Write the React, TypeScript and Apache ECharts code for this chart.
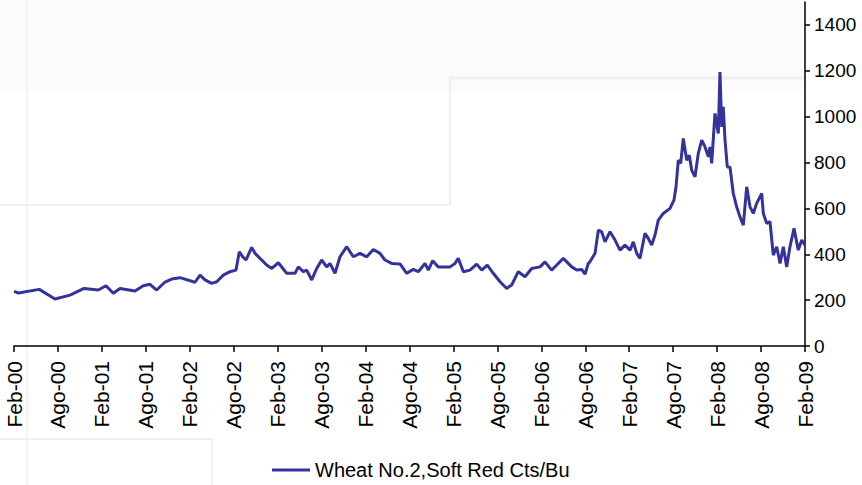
import React, { useEffect, useRef } from "react";
import * as echarts from "echarts";

// Tick labels (every 6 months, starting Feb-2000)
const xLabels = [
  "Feb-00", "Ago-00", "Feb-01", "Ago-01", "Feb-02", "Ago-02", "Feb-03", "Ago-03",
  "Feb-04", "Ago-04", "Feb-05", "Ago-05", "Feb-06", "Ago-06", "Feb-07", "Ago-07",
  "Feb-08", "Ago-08", "Feb-09",
];

// Months elapsed since Feb-2000
const monthIdx = [
  0, 0.59, 3.45, 5.6, 7.65, 9.56, 11.51, 12.56, 13.56, 14.47, 16.52, 17.65, 18.57, 19.48,
  20.62, 21.53, 22.66, 24.71, 25.4, 26.08, 26.99, 27.68, 28.58, 29.49, 30.31, 30.76,
  31.23, 31.68, 32.45, 32.91, 33.59, 34.5, 35.19, 36.09, 37.23, 38.37, 38.82, 39.5,
  39.96, 40.65, 41.33, 42.01, 42.69, 43.14, 43.83, 44.51, 45.43, 46.33, 47.24, 48.16,
  49.06, 49.97, 50.65, 51.57, 52.7, 53.62, 54.52, 55.2, 56.12, 56.57, 57.17, 57.93,
  59.53, 60.21, 60.66, 61.35, 62.26, 63.17, 63.86, 64.62, 65.44, 66.36, 67.27, 67.95,
  68.85, 69.77, 70.68, 71.82, 72.5, 73.41, 74.1, 75.0, 76.15, 76.83, 77.51, 77.96,
  78.41, 78.64, 79.33, 79.78, 80.24, 80.69, 81.38, 82.06, 82.74, 83.42, 84.11, 84.56,
  85.02, 85.47, 86.15, 86.6, 87.07, 87.52, 87.97, 88.65, 89.57, 90.11, 90.39, 90.7,
  91.03, 91.38, 91.85, 92.2, 92.53, 92.98, 93.43, 93.9, 94.35, 94.8, 95.03, 95.26,
  95.71, 96.16, 96.39, 96.63, 96.84, 97.08, 97.39, 97.76, 98.21, 98.67, 99.12, 99.58,
  100.04, 100.49, 100.94, 101.4, 102.09, 102.31, 102.77, 103.22, 103.67, 104.14,
  104.59, 105.04, 105.5, 105.95, 106.5, 107.08, 107.55, 108.0,
];

// Wheat No.2, Soft Red (cents per bushel)
const prices = [
  238, 231, 247, 205, 222, 251, 244, 263, 230, 251, 240, 263, 269, 244,
  279, 292, 298, 278, 309, 288, 273, 280, 309, 324, 331, 411,
  389, 375, 430, 404, 382, 353, 338, 363, 317, 317, 345, 324,
  331, 288, 338, 375, 345, 360, 317, 389, 433, 389, 404, 389,
  421, 404, 375, 360, 358, 317, 334, 324, 360, 331, 372, 345,
  345, 360, 382, 324, 331, 357, 331, 353, 317, 280, 251, 266,
  324, 302, 338, 345, 367, 331, 353, 382, 345, 331, 334, 313,
  360, 367, 404, 505, 498, 454, 498, 462, 418, 440, 418, 454,
  404, 382, 491, 469, 440, 484, 549, 578, 600, 636, 694, 810,
  796, 905, 810, 832, 767, 738, 840, 898, 868, 825, 868, 796,
  1014, 927, 1195, 955, 1043, 898, 781, 780, 665, 607, 563, 527,
  694, 607, 578, 622, 665, 578, 535, 542, 396, 433,
  360, 433, 345, 433, 513, 418, 462, 440,
];

const seriesName = "Wheat No.2,Soft Red Cts/Bu";

export default function App() {
  const ref = useRef<HTMLDivElement>(null);

  useEffect(() => {
    if (!ref.current) return;
    const chart = echarts.init(ref.current, null, { renderer: "svg" });
    const data = monthIdx.map((m, i) => [m, prices[i]]);
    const font = "'Liberation Sans', Arial, sans-serif";
    const faint = "#efefef";

    chart.setOption({
      animation: false,
      backgroundColor: "#ffffff",
      textStyle: { fontFamily: font },
      graphic: {
        elements: [
          { type: "rect", z: -10, silent: true, shape: { x: 0, y: 0, width: 805, height: 90 }, style: { fill: "#fbfbfb" } },
          { type: "line", z: -9, silent: true, shape: { x1: 0, y1: 205, x2: 450, y2: 205 }, style: { stroke: faint, lineWidth: 2 } },
          { type: "line", z: -9, silent: true, shape: { x1: 450, y1: 77, x2: 450, y2: 205 }, style: { stroke: faint, lineWidth: 2 } },
          { type: "line", z: -9, silent: true, shape: { x1: 450, y1: 78, x2: 805, y2: 78 }, style: { stroke: faint, lineWidth: 3 } },
          { type: "line", z: -9, silent: true, shape: { x1: 27, y1: 0, x2: 27, y2: 485 }, style: { stroke: "#f3f3f3", lineWidth: 2 } },
          { type: "line", z: -9, silent: true, shape: { x1: 0, y1: 439, x2: 213, y2: 439 }, style: { stroke: faint, lineWidth: 2 } },
          { type: "line", z: -9, silent: true, shape: { x1: 212, y1: 439, x2: 212, y2: 485 }, style: { stroke: faint, lineWidth: 2 } },
        ],
      },
      grid: { left: 14, right: 57, top: 2, bottom: 139, containLabel: false, outerBoundsMode: "none" },
      legend: {
        data: [{ name: seriesName, icon: "rect" }],
        left: 272,
        top: 460,
        itemWidth: 38,
        itemHeight: 3,
        itemGap: 10,
        padding: 0,
        textStyle: { fontSize: 20, color: "#000", fontFamily: font, padding: [0, 0, 0, 0] },
      },
      xAxis: {
        type: "value",
        min: 0,
        max: 108,
        interval: 6,
        splitLine: { show: false },
        axisLine: { show: true, onZero: false, lineStyle: { color: "#000", width: 1.5 } },
        axisTick: { show: true, length: 6, lineStyle: { color: "#000", width: 1.5 } },
        axisLabel: {
          rotate: 90,
          margin: 15,
          fontSize: 21,
          color: "#000",
          fontFamily: font,
          formatter: (v: number) => xLabels[Math.round(v / 6)] ?? "",
        },
      },
      yAxis: {
        type: "value",
        position: "right",
        min: 0,
        max: 1500,
        interval: 200,
        splitLine: { show: false },
        axisLine: { show: true, onZero: false, lineStyle: { color: "#000", width: 1.5 } },
        axisTick: { show: true, length: 5, inside: false, lineStyle: { color: "#000", width: 1.5 } },
        axisLabel: {
          margin: 9,
          fontSize: 19,
          color: "#000",
          fontFamily: font,
          showMaxLabel: false,
          formatter: (v: number) => String(v),
        },
      },
      series: [
        {
          name: seriesName,
          type: "line",
          data,
          symbol: "none",
          showSymbol: false,
          lineStyle: { color: "#333399", width: 3 },
          itemStyle: { color: "#333399" },
          z: 3,
        },
      ],
    });

    return () => chart.dispose();
  }, []);

  return (
    <div
      ref={ref}
      style={{ position: "fixed", left: 0, top: 0, width: 862, height: 485 }}
    />
  );
}
